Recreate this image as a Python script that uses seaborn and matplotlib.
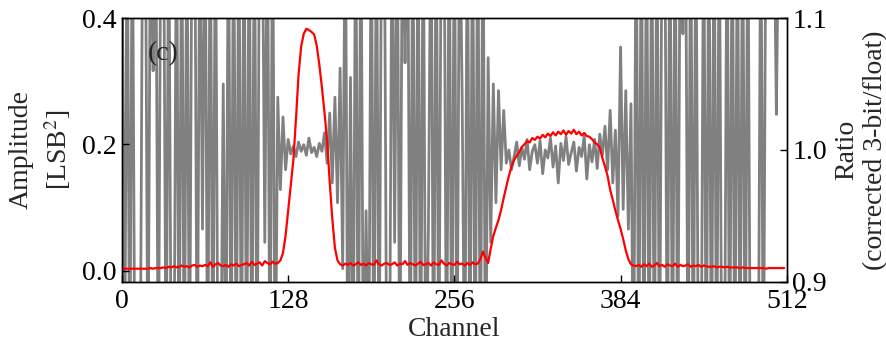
# plot.py - amplitude spectrum (red) with the corrected 3-bit/float ratio (gray)
import matplotlib
matplotlib.use('Agg')

import matplotlib.pyplot as plt
import seaborn as sns

# --- data (every 2nd channel) ---
channel = list(range(0, 512, 2))

amplitude = [
    # ch 0-30
    0.003, 0.003, 0.003, 0.003, 0.003, 0.003, 0.003, 0.003, 0.003, 0.003, 0.003, 0.004, 0.003, 0.004, 0.004, 0.004,
    # ch 32-62
    0.005, 0.004, 0.006, 0.005, 0.007, 0.005, 0.006, 0.008, 0.006, 0.007, 0.005, 0.008, 0.009, 0.006, 0.008, 0.007,
    # ch 64-94
    0.009, 0.007, 0.013, 0.006, 0.010, 0.012, 0.008, 0.007, 0.009, 0.006, 0.010, 0.008, 0.011, 0.007, 0.009, 0.010,
    # ch 96-118
    0.012, 0.008, 0.014, 0.009, 0.011, 0.013, 0.008, 0.015, 0.012, 0.010, 0.014, 0.011,
    # ch 120-166 (first band)
    0.012, 0.016, 0.028, 0.055, 0.095, 0.135, 0.175, 0.240, 0.310, 0.355, 0.375, 0.383,
    0.381, 0.378, 0.374, 0.356, 0.326, 0.290, 0.250, 0.205, 0.140, 0.082, 0.036, 0.016,
    # ch 168-276
    0.010, 0.008, 0.011, 0.009, 0.012, 0.008, 0.010, 0.013, 0.009, 0.011,
    0.008, 0.012, 0.010, 0.009, 0.016, 0.010, 0.008, 0.011, 0.012, 0.009,
    0.010, 0.013, 0.008, 0.011, 0.010, 0.015, 0.009, 0.012, 0.010, 0.008,
    0.011, 0.014, 0.009, 0.010, 0.012, 0.008, 0.013, 0.010, 0.009, 0.016,
    0.011, 0.008, 0.012, 0.010, 0.009, 0.014, 0.010, 0.011, 0.008, 0.012,
    0.009, 0.013, 0.010, 0.011, 0.018,
    # ch 278-300
    0.030, 0.020, 0.012, 0.035, 0.055, 0.068, 0.080, 0.096, 0.115, 0.133, 0.150, 0.165,
    # ch 302-358 (second band)
    0.175, 0.182, 0.188, 0.196, 0.200, 0.205, 0.203, 0.210, 0.207, 0.212,
    0.209, 0.215, 0.211, 0.217, 0.213, 0.219, 0.214, 0.220, 0.216, 0.222,
    0.215, 0.221, 0.217, 0.223, 0.216, 0.220, 0.214, 0.218, 0.213,
    # ch 360-394
    0.212, 0.208, 0.203, 0.200, 0.195, 0.178, 0.165, 0.150, 0.128, 0.112,
    0.095, 0.080, 0.066, 0.050, 0.032, 0.018, 0.010, 0.008,
    # ch 396-450
    0.007, 0.009, 0.006, 0.010, 0.007, 0.011, 0.006, 0.008, 0.012, 0.007,
    0.009, 0.006, 0.010, 0.008, 0.007, 0.011, 0.006, 0.009, 0.007, 0.008,
    0.010, 0.006, 0.008, 0.007, 0.009, 0.006, 0.008, 0.007,
    # ch 452-510
    0.006, 0.006, 0.007, 0.005, 0.006, 0.006, 0.005, 0.006, 0.005, 0.005,
    0.005, 0.005, 0.004, 0.005, 0.004, 0.004, 0.004, 0.004, 0.004, 0.004,
    0.004, 0.004, 0.003, 0.004, 0.004, 0.004, 0.004, 0.004, 0.004, 0.004,
]

ratio = [
    # ch 0-118 (off-band, ratio swings far outside the axis)
    1.2, 0.8, 1.2, 0.8, 1.2, 0.8, 0.8, 0.8, 1.2, 1.2, 0.8, 1.2, 1.06, 1.2, 0.8, 1.2, 1.2, 0.8, 1.2, 0.8,
    0.8, 1.2, 0.8, 1.2, 0.8, 1.2, 0.8, 1.2, 1.2, 0.8, 1.2, 0.94, 1.2, 0.8, 1.2, 0.8, 1.2, 0.8, 0.8, 1.05,
    0.8, 1.2, 0.8, 1.2, 0.8, 1.2, 0.8, 1.2, 0.8, 1.2, 0.8, 1.2, 0.8, 1.2, 1.2, 0.93, 1.2, 0.8, 1.2, 0.8,
    # ch 120-170 (first band)
    1.04, 0.97, 1.025, 0.985, 1.008, 0.997, 1.003, 0.995, 1.006, 0.999, 1.004, 0.996, 1.009,
    0.998, 1.002, 0.995, 1.005, 0.999, 1.013, 0.99, 1.028, 0.975, 1.04, 0.96, 1.062, 0.91,
    # ch 172-276
    1.2, 0.8, 1.055, 0.8, 1.2, 0.8, 1.2, 0.8, 0.954, 0.8, 1.2, 0.8, 1.2, 0.8, 1.2, 1.2, 0.8, 0.8, 1.2, 0.93,
    1.2, 0.8, 1.2, 1.066, 1.2, 0.8, 1.2, 0.8, 1.2, 0.8, 1.2, 0.8, 0.94, 1.2, 0.8, 1.2, 0.8, 1.2, 1.2, 0.8,
    1.2, 0.8, 1.2, 0.8, 1.2, 1.04, 0.8, 1.2, 0.8, 1.2, 0.8, 1.2, 0.8,
    # ch 278-300
    1.2, 0.8, 1.07, 0.93, 1.05, 0.96, 1.045, 0.985, 1.03, 0.99, 1.0, 0.985,
    # ch 302-372 (second band)
    0.995, 1.006, 0.988, 1.002, 0.993, 1.008, 0.985, 0.999, 1.004, 0.99,
    1.007, 0.982, 1.0, 0.994, 1.009, 0.987, 1.003, 0.975, 1.005, 0.992,
    1.01, 0.989, 0.998, 1.006, 0.984, 1.002, 0.995, 1.011, 0.978, 1.004,
    0.991, 1.008, 0.986, 1.012, 0.996, 1.018,
    # ch 374-394
    0.985, 1.03, 0.975, 1.015, 0.95, 1.078, 0.955, 1.045, 0.94, 1.035, 0.8,
    # ch 396-510
    1.2, 0.8, 1.2, 0.8, 1.2, 0.8, 1.2, 0.8, 1.2, 0.8, 1.2, 1.2, 0.8, 1.2, 0.8, 1.2, 0.8, 1.2, 1.088, 1.2,
    0.8, 1.2, 0.8, 1.2, 0.8, 0.8, 1.2, 0.8, 1.2, 0.8, 1.2, 0.8, 1.2, 0.8, 0.8, 1.2, 0.8, 1.2, 0.8, 1.2,
    0.8, 1.2, 0.8, 1.2, 0.8, 0.8, 0.8, 0.8, 1.2, 0.8, 1.2, 1.2, 1.2, 1.2, 1.027, 1.2, 1.2, 1.2,
]

x_ticks = [0, 128, 256, 384, 512]
amp_ticks = [0.0, 0.2, 0.4]
ratio_ticks = [0.9, 1.0, 1.1]


def main():
    sns.set_theme(style='ticks')
    # Times-like font (set after seaborn, which resets font.family)
    plt.rcParams['font.family'] = ['Liberation Serif', 'DejaVu Serif']
    plt.rcParams['mathtext.fontset'] = 'stix'
    fs = 20

    fig, ax = plt.subplots(figsize=(8.87, 3.43), dpi=100)
    fig.subplots_adjust(left=0.1375, right=0.887, bottom=0.178, top=0.9475)
    ax2 = ax.twinx()

    # ratio on the right axis, amplitude drawn on top
    sns.lineplot(x=channel, y=ratio, ax=ax2, color='#808080', linewidth=2.0)
    sns.lineplot(x=channel, y=amplitude, ax=ax, color='red', linewidth=1.6)
    ax.set_zorder(ax2.get_zorder() + 1)
    ax.patch.set_visible(False)

    ax.set_xlim(0, 512)
    ax.set_ylim(-0.018, 0.4)
    ax2.set_ylim(0.9, 1.1)
    ax.set_xticks(x_ticks)
    ax.set_yticks(amp_ticks)
    ax.set_yticklabels([f'{v:.1f}' for v in amp_ticks])
    ax2.set_yticks(ratio_ticks)
    ax2.set_yticklabels([f'{v:.1f}' for v in ratio_ticks])

    ax.tick_params(axis='x', direction='in', length=5, width=1, labelsize=fs, pad=5, colors='black')
    ax.tick_params(axis='y', direction='in', length=5, width=1, labelsize=fs, pad=4, colors='black')
    ax2.tick_params(axis='y', direction='in', length=5, width=1, labelsize=fs, pad=4, colors='black')

    ax.set_xlabel('Channel', fontsize=fs, labelpad=2)
    ax.set_ylabel('Amplitude\n[LSB$^2$]', fontsize=fs, labelpad=6, linespacing=1.35)
    ax2.set_ylabel('Ratio\n(corrected 3-bit/float)', fontsize=fs, labelpad=5, linespacing=1.2)

    for a in (ax, ax2):
        for sp in a.spines.values():
            sp.set_color('black')
            sp.set_linewidth(1.0)

    ax.text(0.039, 0.867, '(c)', transform=ax.transAxes, fontsize=fs, ha='left', va='center')

    fig.savefig('out.png', dpi=100)
    plt.close(fig)


if __name__ == '__main__':
    main()
